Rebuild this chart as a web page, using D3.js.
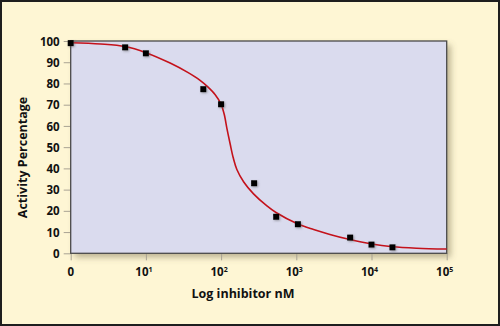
<!DOCTYPE html>
<html>
<head>
<meta charset="utf-8">
<script src="https://cdn.jsdelivr.net/npm/d3@7"></script>
<style>
  html, body { margin: 0; padding: 0; background: #fef6d4; }
  svg { display: block; }
  text { font-family: "Open Sans", "Noto Sans", sans-serif; font-weight: 700; fill: #111; }
</style>
</head>
<body>
<svg id="chart" width="500" height="326"></svg>
<script>
// Measured inhibitor concentrations (nM) and remaining activity (%)
const concNM   = [1, 5.3, 10, 58, 100, 275, 540, 1050, 5200, 10000, 19000];
const activity = [99, 97, 94.2, 77.3, 70.2, 33, 17.2, 13.7, 7.4, 4.1, 2.8];

// Dose-response fit line
const fitNM = [1, 2.5, 5.3, 10, 21, 36, 52, 66, 83, 100, 110, 120, 132, 145, 162, 200, 270, 407, 537, 1050, 1700, 2800, 5000, 10000, 19000, 40000, 100000];
const fitY  = [99.2, 98.6, 97.4, 94.5, 89.6, 85.2, 81.6, 78.5, 74.8, 70.2, 65.5, 58.5, 51.5, 45.0, 39.5, 33.6, 28.0, 22.3, 19.2, 13.8, 11.2, 8.9, 6.6, 4.4, 3.1, 2.4, 2.0];

// Axis ticks
const yTicks = [0, 10, 20, 30, 40, 50, 60, 70, 80, 90, 100];
const xTicks = [1, 10, 100, 1000, 10000, 100000];
const xTickBase = ["0", "10", "10", "10", "10", "10"];
const xTickExp  = ["", "1", "2", "3", "4", "5"];

const svg = d3.select("#chart");
const W = 500, H = 326;
const plot = { left: 70.7, right: 446.7, top: 41, bottom: 253.3 };

const x = d3.scaleLog().domain([1, 100000]).range([plot.left, plot.right]);
const y = d3.scaleLinear().domain([0, 100]).range([plot.bottom, plot.top]);

// Page background and frame
svg.append("rect").attr("x", 0).attr("y", 0).attr("width", W).attr("height", H).attr("fill", "#fef6d4");
svg.append("rect").attr("x", 1).attr("y", 1).attr("width", W - 2).attr("height", H - 2)
  .attr("fill", "none").attr("stroke", "#1e1e1e").attr("stroke-width", 2);

const defs = svg.append("defs");
const shadow = defs.append("filter").attr("id", "shadow")
  .attr("x", "-10%").attr("y", "-10%").attr("width", "130%").attr("height", "130%");
shadow.append("feDropShadow").attr("dx", 4).attr("dy", 4).attr("stdDeviation", 3)
  .attr("flood-color", "#6b6040").attr("flood-opacity", 0.45);
const mshadow = defs.append("filter").attr("id", "mshadow")
  .attr("x", "-50%").attr("y", "-50%").attr("width", "200%").attr("height", "200%");
mshadow.append("feDropShadow").attr("dx", 1).attr("dy", 1).attr("stdDeviation", 0.8)
  .attr("flood-color", "#555").attr("flood-opacity", 0.5);

// Plot panel
svg.append("rect")
  .attr("x", plot.left).attr("y", plot.top)
  .attr("width", plot.right - plot.left).attr("height", plot.bottom - plot.top)
  .attr("fill", "#dadbee").attr("filter", "url(#shadow)");

// Y axis
const yAxis = svg.append("g").attr("transform", `translate(${plot.left},0)`)
  .call(d3.axisLeft(y).tickValues(yTicks).tickSize(7).tickPadding(4).tickFormat(d3.format("d")));
yAxis.select(".domain").remove();
yAxis.selectAll(".tick line").attr("stroke", "#a9a393").attr("stroke-width", 1);
yAxis.selectAll(".tick text").attr("font-size", 11.5).attr("font-family", "'Open Sans', sans-serif")
  .attr("font-weight", 700).attr("fill", "#111").attr("dy", "0.36em");

// X axis
const xAxis = svg.append("g").attr("transform", `translate(0,${plot.bottom})`)
  .call(d3.axisBottom(x).tickValues(xTicks).tickSize(7).tickFormat(() => ""));
xAxis.select(".domain").remove();
xAxis.selectAll(".tick line").attr("stroke", "#a9a393").attr("stroke-width", 1);
xAxis.selectAll(".tick text").remove();

const xl = svg.append("g");
xTicks.forEach((v, i) => {
  const t = xl.append("text")
    .attr("x", x(v) - (xTickExp[i] ? 2 : 0)).attr("y", 276)
    .attr("text-anchor", "middle").attr("font-size", 11.5);
  t.append("tspan").text(xTickBase[i]);
  if (xTickExp[i]) {
    t.append("tspan").attr("font-size", 7).attr("dy", -4.5).text(xTickExp[i]);
  }
});

// Plot border
svg.append("rect")
  .attr("x", plot.left).attr("y", plot.top)
  .attr("width", plot.right - plot.left).attr("height", plot.bottom - plot.top)
  .attr("fill", "none").attr("stroke", "#4a4a4a").attr("stroke-width", 1.3);

// Fit line
const line = d3.line()
  .x((d, i) => x(fitNM[i]))
  .y(d => y(d))
  .curve(d3.curveCatmullRom.alpha(0.5));
svg.append("path").datum(fitY)
  .attr("d", line)
  .attr("fill", "none").attr("stroke", "#c4121b").attr("stroke-width", 1.6);

// Data markers
const m = 6;
svg.append("g").selectAll("rect").data(activity).join("rect")
  .attr("x", (d, i) => x(concNM[i]) - m / 2)
  .attr("y", d => y(d) - m / 2)
  .attr("width", m).attr("height", m)
  .attr("fill", "#000").attr("filter", "url(#mshadow)");

// Axis titles
svg.append("text").attr("x", 243).attr("y", 297.5).attr("text-anchor", "middle")
  .attr("font-size", 12.5).text("Log inhibitor nM");
svg.append("text")
  .attr("transform", "translate(27,157.5) rotate(-90)")
  .attr("text-anchor", "middle").attr("font-size", 12.5)
  .text("Activity Percentage");
</script>
</body>
</html>
